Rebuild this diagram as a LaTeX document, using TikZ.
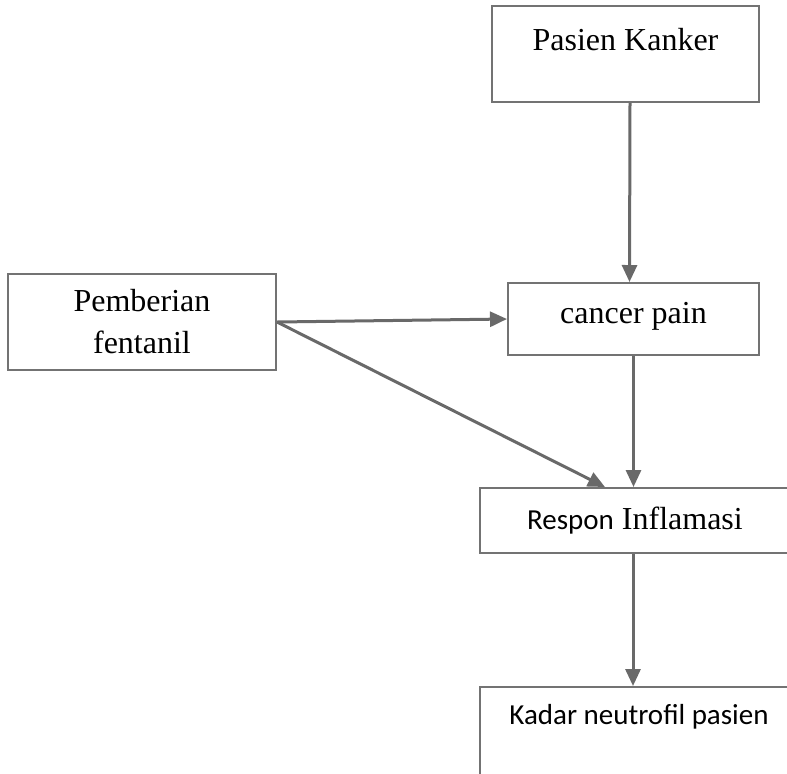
\documentclass[tikz,border=0pt]{standalone}
\usepackage{fontspec}
\setmainfont{Liberation Serif}
\newfontfamily\calibri{Carlito}
\usetikzlibrary{arrows.meta}
\definecolor{linegray}{RGB}{105,105,105}
\definecolor{boxgray}{RGB}{115,115,115}
\begin{document}
\begin{tikzpicture}[x=0.5pt, y=-0.5pt,
        box/.style={rectangle, draw=boxgray, line width=1pt, inner sep=0pt, align=center, font=\fontsize{16}{21}\selectfont},
        arrow/.style={-{Triangle[length=8.5pt, width=7.5pt]}, draw=linegray, line width=1.5pt}
    ]
        \useasboundingbox (0,0) rectangle (787,773);

        \node[box, anchor=north, minimum width=133.5pt, text height=22pt, text depth=26pt] (kanker) at (625.5,5) {Pasien Kanker};
        \node[box, minimum width=134pt, minimum height=48pt] (fentanil) at (142,322) {Pemberian\\fentanil};
        \node[box, anchor=north, minimum width=125.5pt, text height=20pt, text depth=16pt] (pain) at (633.5,282) {cancer pain};
        \node[box, anchor=north, minimum width=155pt, text height=20.5pt, text depth=12pt] (respon) at (635,487) {{\calibri\fontsize{14.5}{18}\selectfont Respon} Inflamasi};
        \node[box, anchor=north, minimum width=159pt, text height=18.5pt, text depth=40pt, font=\calibri\fontsize{14.5}{18}\selectfont] (kadar) at (639,686) {Kadar neutrofil pasien};

        \draw[arrow] ([xshift=2.25pt]kanker.south) -- ([xshift=-2pt]pain.north);
        \draw[arrow] (fentanil.east) -- (pain.west);
        \draw[arrow] (fentanil.east) -- ([xshift=-15pt]respon.north);
        \draw[arrow] (pain.south) -- (pain.south |- respon.north);
        \draw[arrow] ([xshift=-1pt]respon.south) -- ([xshift=-1pt]respon.south |- kadar.north);
    \end{tikzpicture}
\end{document}
